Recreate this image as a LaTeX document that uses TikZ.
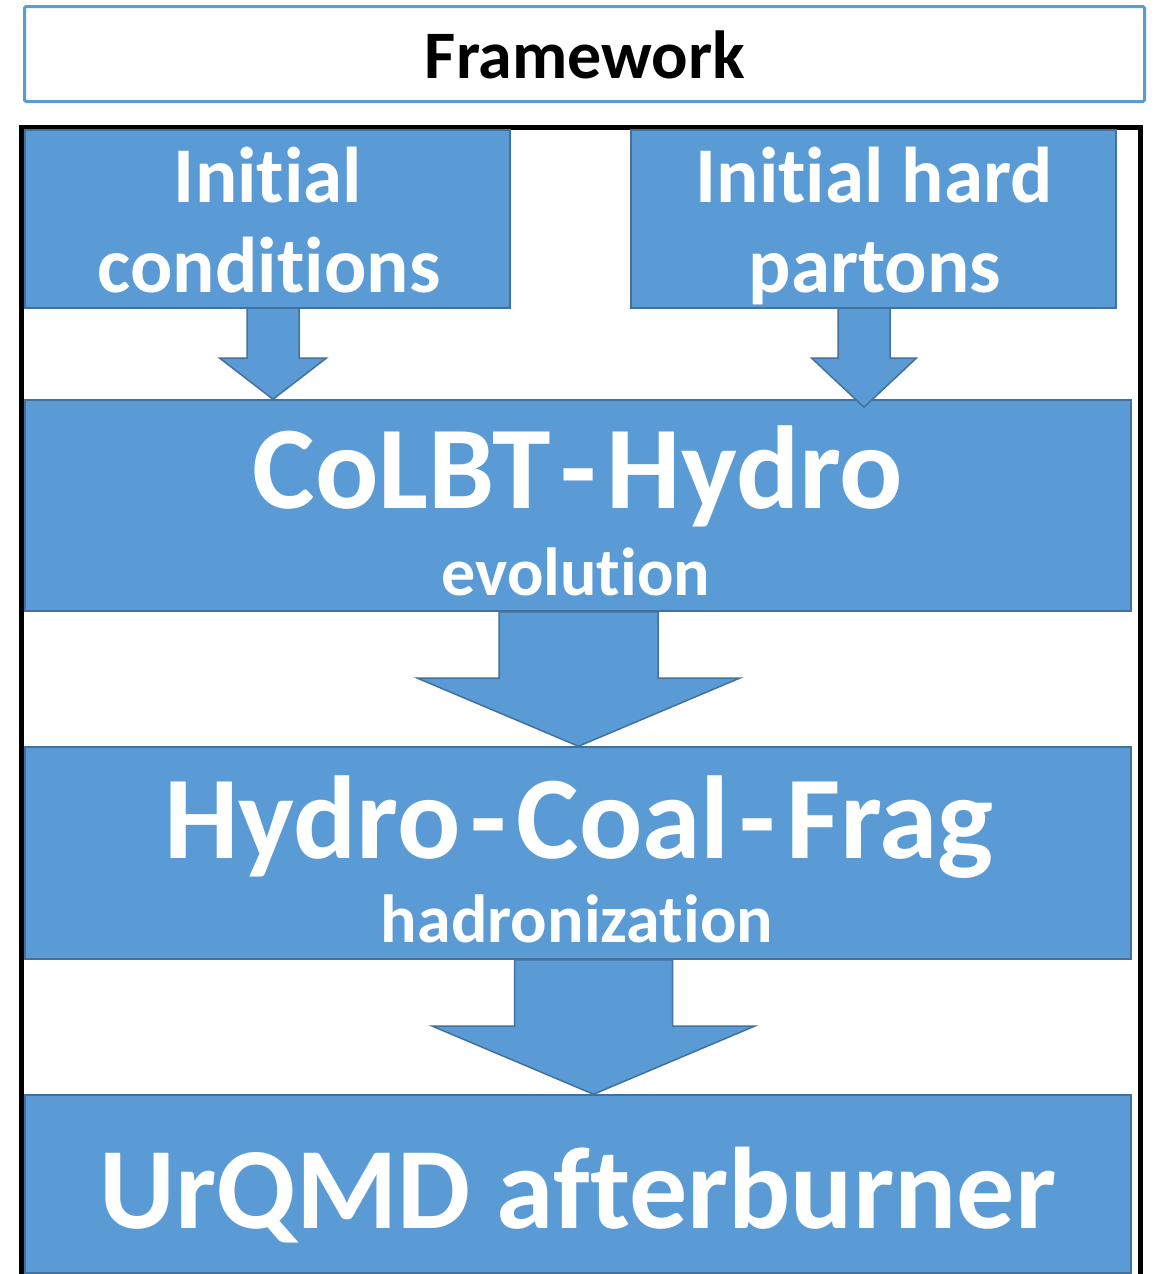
\documentclass[tikz,border=0pt]{standalone}
\usepackage{fontspec}
\setmainfont{Carlito}[Ligatures={NoCommon,NoRare,NoContextual}]
\usetikzlibrary{calc}
\definecolor{boxblue}{HTML}{5B9BD5}
\definecolor{edgeblue}{HTML}{41719C}
\newcommand\fsz[1]{\fontsize{#1}{#1}\selectfont\bfseries}
\newcommand\hy{\kern10pt-\kern10pt}
\tikzset{
  bluebox/.style={draw=edgeblue, fill=boxblue, line width=1.5pt},
  barrow/.style={draw=edgeblue, fill=boxblue, line width=1.5pt, line join=miter},
  wtext/.style={text=white, anchor=base, inner sep=0pt},
}
% #1 upper node, #2 lower node, #3 x centre, #4 shaft half width, #5 head half width, #6 head y, #7 tip offset (down)
\newcommand\blkarrow[7]{%
  \draw[barrow] let \p1=(#1.south), \p2=(#2.north) in
    (#3pt-#4pt,\y1) -- (#3pt+#4pt,\y1) -- (#3pt+#4pt,-#6pt) -- (#3pt+#5pt,-#6pt)
    -- (#3pt,\y2-#7pt) -- (#3pt-#5pt,-#6pt) -- (#3pt-#4pt,-#6pt) -- cycle;}
\begin{document}
\begin{tikzpicture}[x=1pt,y=-1pt]
\useasboundingbox (0,0) rectangle (1155,1274);
\clip (0,0) rectangle (1155,1274);
% title box
\node[draw=boxblue, line width=3pt, rounded corners=1.5pt, minimum width=1120pt, minimum height=95pt, inner sep=0pt] (fw) at (584.5,54) {};
\node[anchor=base, inner sep=0pt] (fwt) at (585,78) {\fsz{68}Framework};
% black frame
\draw[line width=5pt, line join=miter] (21.5,1290) -- (21.5,127.5) -- (1140.5,127.5) -- (1140.5,1290);
% boxes
\path[bluebox] (25,130) rectangle (510,308);
\node[minimum width=485pt, minimum height=178pt, inner sep=0pt] (ic) at (267.5,219) {};
\path[bluebox] (631,130) rectangle (1116,308);
\node[minimum width=485pt, minimum height=178pt, inner sep=0pt] (hp) at (873.5,219) {};
\node[bluebox, minimum width=1106pt, minimum height=211pt, inner sep=0pt] (co) at (578,505.5) {};
\node[bluebox, minimum width=1106pt, minimum height=212pt, inner sep=0pt] (hc) at (578,853) {};
\node[bluebox, minimum width=1106pt, minimum height=178pt, inner sep=0pt] (ur) at (578,1184) {};
% texts
\node[wtext] (ic1) at (268,202) {\fsz{79}Initial};
\node[wtext] (ic2) at (269,292) {\fsz{79}conditions};
\node[wtext] (hp1) at (874,202) {\fsz{79}Initial hard};
\node[wtext] (hp2) at (875,292) {\fsz{79}partons};
\node[wtext] (co1) at (578,508) {\fsz{118}CoLBT\hy Hydro};
\node[wtext] (co2) at (576,595) {\fsz{68}evolution};
\node[wtext] (hc1) at (579,858) {\fsz{118}Hydro\hy Coal\hy Frag};
\node[wtext] (hc2) at (577,942) {\fsz{68}hadronization};
\node[wtext] (ur1) at (578,1228) {\fsz{116}UrQMD afterburner};
% block arrows
\blkarrow{ic}{co}{273}{26}{53.5}{358}{0}
\blkarrow{hp}{co}{864}{26}{52.5}{358}{8}
\blkarrow{co}{hc}{578.5}{79.5}{161.5}{678}{0}
\blkarrow{hc}{ur}{593.5}{79}{161.5}{1026}{0}
\end{tikzpicture}
\end{document}
